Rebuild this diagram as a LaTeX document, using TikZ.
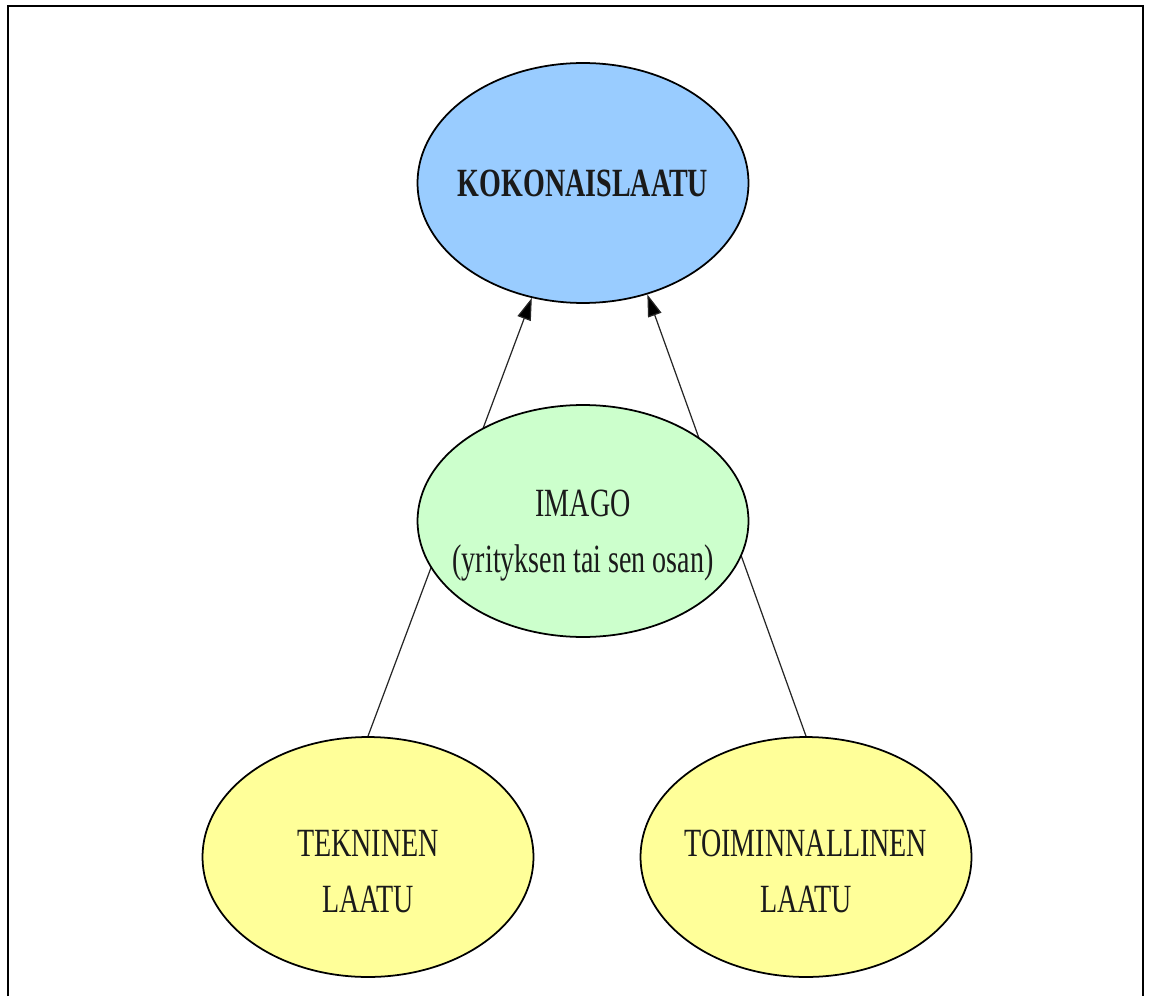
\documentclass[tikz,border=0pt]{standalone}
\usepackage{fontspec}
\setmainfont{Liberation Serif}[FakeStretch=0.70]
\usetikzlibrary{arrows.meta,shapes.geometric}
\definecolor{skyfill}{HTML}{99CCFF}
\definecolor{mintfill}{HTML}{CCFFCC}
\definecolor{lemonfill}{HTML}{FFFF99}
\definecolor{ink}{HTML}{1A1A1A}

\begin{document}
\begin{tikzpicture}[x=0.02cm,y=-0.02cm,
   font=\fontsize{22.8}{31.9}\selectfont,
   e/.style={ellipse,draw=black,line width=1pt,inner xsep=-2cm,inner ysep=0pt,
             align=center,minimum width=6.62cm,minimum height=4.8cm,text=ink},
   dn/.style={execute at begin node={\rule{0pt}{2.22cm}}},
   link/.style={line width=0.7pt,draw=black!85,
             -{Triangle[length=0.44cm,width=0.28cm,fill=black]}}]
  \useasboundingbox (0,0) rectangle (1151,996);
  % frame
  \draw[line width=1.4pt] (8,996) -- (8,6) -- (1143,6) -- (1143,996);
  \node[e,fill=skyfill] (kok) at (583,183) {\textbf{KOKONAISLAATU}};
  \node[e,dn,fill=lemonfill] (tek) at (368,857) {TEKNINEN\\LAATU};
  \node[e,dn,fill=lemonfill] (toim) at (806,857) {TOIMINNALLINEN\\LAATU};
  \draw[link] (tek.north) -- (kok.246);
  \draw[link] (toim.north) -- (kok.300);
  \node[e,dn,fill=mintfill,minimum height=4.64cm] (imago) at (583,521)
    {IMAGO\\(yrityksen tai sen osan)};
\end{tikzpicture}
\end{document}
